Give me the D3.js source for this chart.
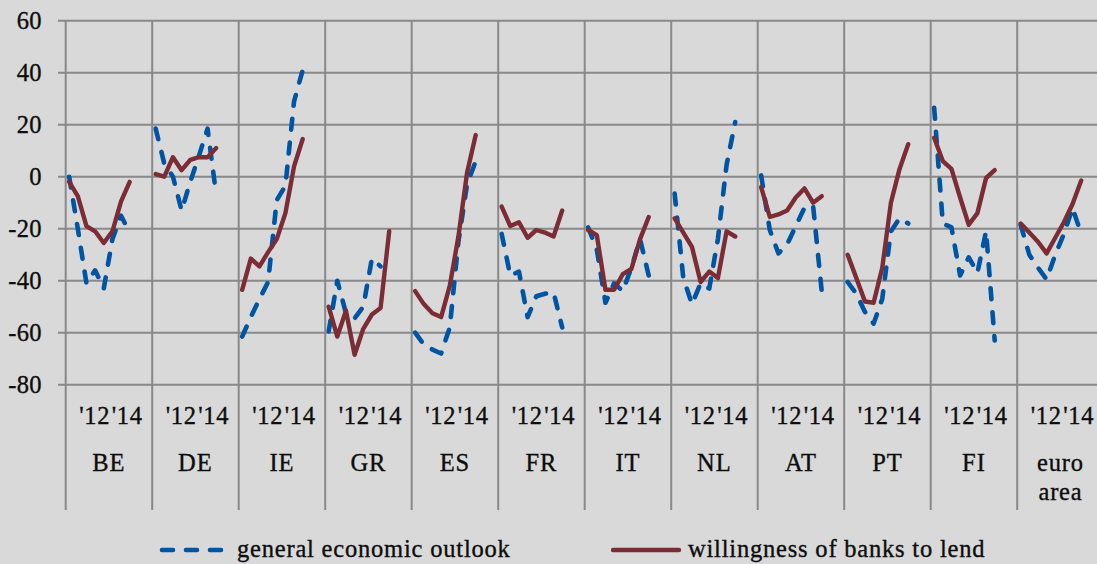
<!DOCTYPE html>
<html>
<head>
<meta charset="utf-8">
<script src="https://cdn.jsdelivr.net/npm/d3@7"></script>
<style>
  html, body { margin: 0; padding: 0; background: #d9d9d9; }
  svg { display: block; }
</style>
</head>
<body>
<svg id="chart" width="1097" height="564"></svg>
<script>
// Countries shown as separate panels along the category axis
const countries = ["BE", "DE", "IE", "GR", "ES", "FR", "IT", "NL", "AT", "PT", "FI", "euro area"];

// Period markers printed under each panel
const periodLabels = ["'12", "'14"];

// Value axis ticks
const yTicks = [-80, -60, -40, -20, 0, 20, 40, 60];

// General economic outlook (net percentages), one row per country
const outlook = [
  [0, -20, -41, -36, -43, -24, -15, -21.5],
  [18.5, 5, 0, -13, -2, 8, 18.5, -7],
  [-61.5, -54, -47, -40.5, -9, -3.5, 29, 41],
  [-59.5, -40, -52.5, -54.5, -50, -31.5, -34.5, null],
  [-60, -64.5, -66.5, -68, -58, -25, -3, 6],
  [-22, -38, -36.5, -54, -46, -45, -44.5, -58],
  [-19.5, -28, -48.5, -41, -44, -35, -24, -38],
  [-6.5, -39, -49, -41, -43, -24, 4.5, 21],
  [0.5, -20.5, -29.5, -26, -19, -12, -11, -44],
  [-40.5, -45, -52, -56.5, -47, -21, -16, -18],
  [26.5, -18, -19.5, -38, -31, -37, -21, -63],
  [-18.5, -30, -35, -39.5, -30, -22, -12, -22]
];

// Willingness of banks to lend (net percentages), one row per country
const lending = [
  [-2, -7.5, -19, -21, -25.5, -21, -9.5, -2],
  [1, 0, 7.5, 2.5, 6.5, 7.5, 7.5, 11],
  [-43.5, -31.5, -34.5, -29, -24, -14, 4, 14.5],
  [-50, -61.5, -51.5, -68.5, -58.5, -53, -50.5, -21],
  [-44, -49, -52.5, -54, -42, -23, 1.5, 16],
  [-11.5, -19, -17.5, -23.5, -20.5, -21.5, -23, -13],
  [-20.5, -22.5, -43.5, -43.5, -37.5, -35.5, -24, -15.5],
  [-16, -21.5, -27, -40.5, -36.5, -39, -21, -23],
  [-4, -15.5, -14.5, -13, -8, -4.5, -10, -7.5],
  [-30, -39, -48, -48.5, -35, -10, 3, 12.5],
  [15, 6, 3, -8, -18.5, -14, -0.5, 2.5],
  [-18, -21.5, -25, -29.5, -23.5, -17.5, -10.5, -1.5]
];

const seriesNames = ["general economic outlook", "willingness of banks to lend"];
const seriesColors = ["#0054a4", "#7b2c34"];

const svg = d3.select("#chart");
const W = 1097, H = 564;
const slotsPerGroup = 10;
const plotLeft = 65.7, plotTop = 20.7, plotBottom = 384.7;
const groupWidth = 86.5;
const gridColor = "#898989";
const fontFamily = "Liberation Serif";
const fontSize = 24.5;

svg.append("rect").attr("width", W).attr("height", H).attr("fill", "#d9d9d9");

// Category slots: 10 per country, the last ones left empty as a gap
const x = d3.scaleLinear()
  .domain([0, countries.length * slotsPerGroup])
  .range([plotLeft, plotLeft + countries.length * groupWidth]);

const y = d3.scaleLinear().domain([-80, 60]).range([plotBottom, plotTop]);

function addText(g, str, px, py, anchor, spacing) {
  return g.append("text")
    .attr("x", px).attr("y", py)
    .attr("text-anchor", anchor)
    .attr("font-family", fontFamily)
    .attr("font-size", fontSize)
    .attr("letter-spacing", spacing || 0)
    .attr("fill", "#0d0d0d")
    .attr("stroke", "#0d0d0d")
    .attr("stroke-width", 0.35)
    .text(str);
}

// Horizontal gridlines with short tick stubs to the left
const grid = svg.append("g");
yTicks.forEach(t => {
  grid.append("line")
    .attr("x1", 58).attr("x2", W)
    .attr("y1", y(t)).attr("y2", y(t))
    .attr("stroke", gridColor).attr("stroke-width", 2);
});

// Panel separators running down through the label area
d3.range(countries.length + 1).forEach(k => {
  const xv = x(k * slotsPerGroup);
  grid.append("line")
    .attr("x1", xv).attr("x2", xv)
    .attr("y1", plotTop).attr("y2", 510)
    .attr("stroke", gridColor).attr("stroke-width", 2);
});

// Value axis labels
const yAxisG = svg.append("g");
yTicks.forEach(t => addText(yAxisG, String(t), 42, y(t) + 8.3, "end", 0.4));

// Category labels: period markers and country names
const xAxisG = svg.append("g");
countries.forEach((c, gi) => {
  const g0 = x(gi * slotsPerGroup);
  addText(xAxisG, periodLabels[0], g0 + 29, 424, "middle", 0.6);
  addText(xAxisG, periodLabels[1], g0 + 61.5, 424, "middle", 0.6);
  const cx = g0 + groupWidth / 2;
  const words = c.split(" ");
  if (words.length === 1) {
    addText(xAxisG, c, cx, 471, "middle", 1);
  } else {
    addText(xAxisG, words[0], cx, 471, "middle", 0.8);
    addText(xAxisG, words[1], cx, 500, "middle", 0.8);
  }
});

// Lines per country
const line = d3.line()
  .defined(d => d.v !== null)
  .x(d => x(d.slot))
  .y(d => y(d.v));

function drawSeries(rows, color, dashed) {
  const g = svg.append("g");
  rows.forEach((vals, gi) => {
    const pts = vals.map((v, i) => ({ slot: gi * slotsPerGroup + 0.4 + i, v }));
    g.append("path")
      .attr("d", line(pts))
      .attr("fill", "none")
      .attr("stroke", color)
      .attr("stroke-width", dashed ? 4.6 : 4.4)
      .attr("stroke-linecap", "round")
      .attr("stroke-linejoin", "round")
      .attr("stroke-dasharray", dashed ? "11,13" : null);
  });
}

drawSeries(outlook, seriesColors[0], true);
drawSeries(lending, seriesColors[1], false);

// Legend
const leg = svg.append("g");
leg.append("line").attr("x1", 162).attr("x2", 222).attr("y1", 550).attr("y2", 550)
  .attr("stroke", seriesColors[0]).attr("stroke-width", 4.6)
  .attr("stroke-linecap", "round").attr("stroke-dasharray", "11,13");
addText(leg, seriesNames[0], 237, 557, "start", 0.8);
leg.append("line").attr("x1", 613).attr("x2", 679).attr("y1", 550).attr("y2", 550)
  .attr("stroke", seriesColors[1]).attr("stroke-width", 4.4)
  .attr("stroke-linecap", "round");
addText(leg, seriesNames[1], 688, 557, "start", 0.8);
</script>
</body>
</html>
